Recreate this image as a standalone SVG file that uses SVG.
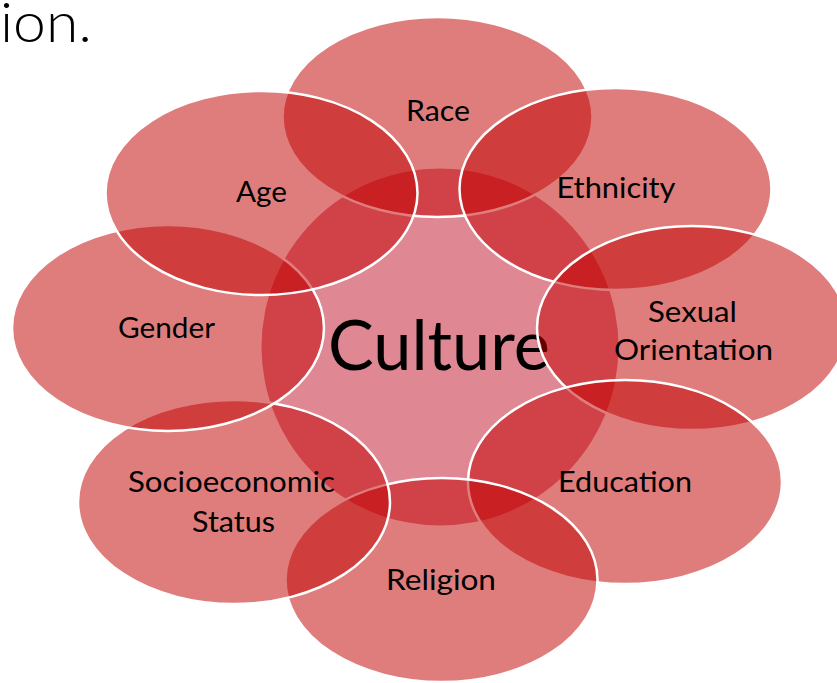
<svg xmlns="http://www.w3.org/2000/svg" width="837" height="683" viewBox="0 0 837 683">
<style>
.pet{fill:#C00000;fill-opacity:0.51;stroke:#ffffff;stroke-width:2.5}
.lbl{font-family:Lato,"Open Sans","Liberation Sans",sans-serif;font-size:28.5px;fill:#000;text-anchor:middle}
.title{font-family:Lato,"Liberation Sans",sans-serif;font-weight:300;font-size:56px;fill:#000}
</style>
<rect width="837" height="683" fill="#ffffff"/>
<text class="title" x="0" y="42" textLength="92" lengthAdjust="spacingAndGlyphs">ion.</text>
<g id="culture">
<circle cx="440" cy="347" r="178.5" fill="#e08794"/>
<text x="439" y="370" font-family="Lato,'Open Sans','Liberation Sans',sans-serif" font-size="69" text-anchor="middle" textLength="222" lengthAdjust="spacingAndGlyphs" fill="#000">Culture</text>
</g>
<g id="race"><ellipse class="pet" cx="437.5" cy="117" rx="155" ry="100"/><text class="lbl" x="438" y="121" textLength="64" lengthAdjust="spacingAndGlyphs">Race</text></g>
<g id="ethnicity"><ellipse class="pet" cx="615.5" cy="189" rx="156" ry="101"/><text class="lbl" x="616" y="198" textLength="119" lengthAdjust="spacingAndGlyphs">Ethnicity</text></g>
<g id="sexual-orientation"><ellipse class="pet" cx="692" cy="328" rx="155" ry="102"/><text class="lbl" x="692.5" y="322" textLength="89" lengthAdjust="spacingAndGlyphs">Sexual</text><text class="lbl" x="693.5" y="360" textLength="159" lengthAdjust="spacingAndGlyphs">Orientation</text></g>
<g id="education"><ellipse class="pet" cx="625" cy="482" rx="157" ry="102"/><text class="lbl" x="625" y="492" textLength="134" lengthAdjust="spacingAndGlyphs">Education</text></g>
<g id="religion"><ellipse class="pet" cx="441.5" cy="580" rx="156" ry="102"/><text class="lbl" x="441" y="590" textLength="110" lengthAdjust="spacingAndGlyphs">Religion</text></g>
<g id="socioeconomic-status"><ellipse class="pet" cx="234" cy="502" rx="156" ry="102"/><text class="lbl" x="231.5" y="492" textLength="207" lengthAdjust="spacingAndGlyphs">Socioeconomic</text><text class="lbl" x="233.5" y="532" textLength="83" lengthAdjust="spacingAndGlyphs">Status</text></g>
<g id="gender"><ellipse class="pet" cx="168" cy="328" rx="156" ry="103"/><text class="lbl" x="166.5" y="338" textLength="97" lengthAdjust="spacingAndGlyphs">Gender</text></g>
<g id="age"><ellipse class="pet" cx="261.5" cy="193" rx="156" ry="102"/><text class="lbl" x="261.5" y="202" textLength="51" lengthAdjust="spacingAndGlyphs">Age</text></g>
<g id="connectors"/>
</svg>
